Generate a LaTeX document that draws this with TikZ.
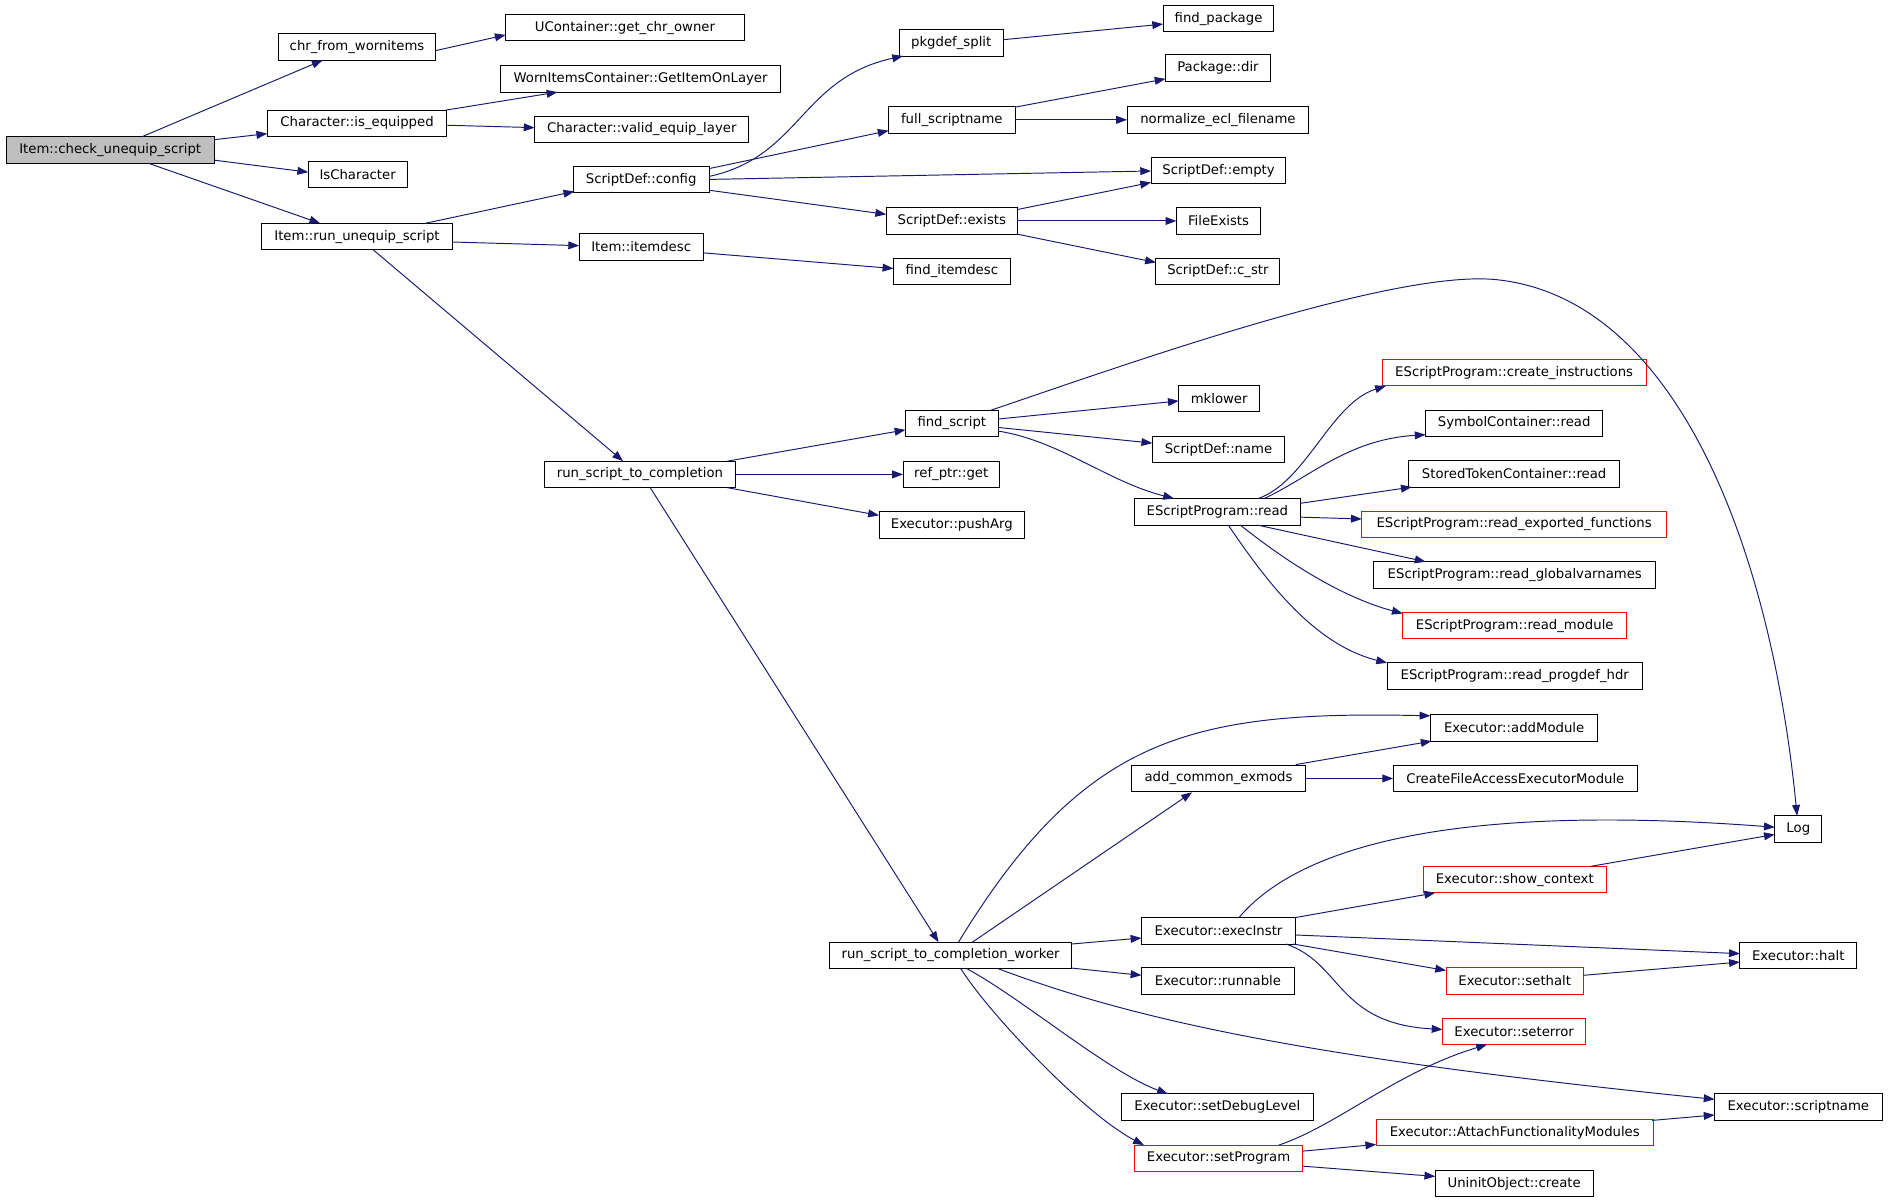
\documentclass[tikz,border=0pt]{standalone}
\usepackage{fontspec}
\setmainfont{DejaVu Sans}
\usetikzlibrary{arrows.meta}
\definecolor{edgeblue}{HTML}{191970}
\begin{document}
\begin{tikzpicture}[x=1pt,y=-1pt,
  box/.style={draw=black, line width=0.8pt, fill=white, inner sep=0pt, minimum height=22pt, font=\fontsize{11}{13}\selectfont, text=black},
  redbox/.style={box, draw=red},
  conn/.style={draw=edgeblue, line width=0.8pt, -{Triangle[length=9pt,width=6.5pt]}}]
\fill[white] (0,0) rectangle (1568,999);
\useasboundingbox (0,0) rectangle (1568,999);
% nodes
\node[box, fill=black!25, minimum width=173pt] (check) at (91.5,124.5) {Item::check\_unequip\_script};
\node[box, minimum width=131pt] (chr) at (296.5,39) {chr\_from\_wornitems};
\node[box, minimum width=198pt] (ucont) at (519,23) {UContainer::get\_chr\_owner};
\node[box, minimum width=232pt] (worn) at (532,65.5) {WornItemsContainer::GetItemOnLayer};
\node[box, minimum width=149pt] (iseq) at (296.5,102.5) {Character::is\_equipped};
\node[box, minimum width=178pt] (valid) at (533,107.5) {Character::valid\_equip\_layer};
\node[box, minimum width=82pt] (ischar) at (297,145) {IsCharacter};
\node[box, minimum width=113pt] (config) at (532.5,149) {ScriptDef::config};
\node[box, minimum width=159pt] (rue) at (296.5,196.5) {Item::run\_unequip\_script};
\node[box, minimum width=103pt] (itemdesc) at (532.5,205) {Item::itemdesc};
\node[box, minimum width=86pt] (pkgdef) at (790,35.5) {pkgdef\_split};
\node[box, minimum width=92pt] (findpkg) at (1012,15.5) {find\_package};
\node[box, minimum width=105pt] (fullsn) at (790.5,99.5) {full\_scriptname};
\node[box, minimum width=87pt] (pkgdir) at (1011.5,56.5) {Package::dir};
\node[box, minimum width=151pt] (normecl) at (1011.5,99.5) {normalize\_ecl\_filename};
\node[box, minimum width=112pt] (sdempty) at (1012,141.5) {ScriptDef::empty};
\node[box, minimum width=109pt] (sdexists) at (790.5,183.5) {ScriptDef::exists};
\node[box, minimum width=70pt] (fileex) at (1012,183.5) {FileExists};
\node[box, minimum width=103pt] (cstr) at (1011.5,225.5) {ScriptDef::c\_str};
\node[box, minimum width=97pt] (finditem) at (790.5,225.5) {find\_itemdesc};
\node[box, minimum width=77pt] (findscript) at (790.5,351.5) {find\_script};
\node[box, minimum width=67pt] (mklower) at (1012.5,331) {mklower};
\node[box, minimum width=110pt] (sdname) at (1012,373.5) {ScriptDef::name};
\node[box, minimum width=159pt] (rstc) at (531.5,394) {run\_script\_to\_completion};
\node[box, minimum width=80pt] (refptr) at (790,394) {ref\_ptr::get};
\node[box, minimum width=121pt] (pusharg) at (790.5,436) {Executor::pushArg};
\node[box, minimum width=138pt] (espread) at (1011,425) {EScriptProgram::read};
\node[redbox, minimum width=219pt] (createinst) at (1257.5,309.5) {EScriptProgram::create\_instructions};
\node[box, minimum width=147pt] (symread) at (1257.5,351.5) {SymbolContainer::read};
\node[box, minimum width=175pt] (stread) at (1257.5,393.5) {StoredTokenContainer::read};
\node[redbox, minimum width=253pt] (readexp) at (1257.5,435.5) {EScriptProgram::read\_exported\_functions};
\node[box, minimum width=234pt] (readglob) at (1258,477.5) {EScriptProgram::read\_globalvarnames};
\node[redbox, minimum width=186pt] (readmod) at (1258,519.5) {EScriptProgram::read\_module};
\node[box, minimum width=212pt] (readprog) at (1258,561.5) {EScriptProgram::read\_progdef\_hdr};
\node[box, minimum width=139pt] (addmod) at (1257.5,604.5) {Executor::addModule};
\node[box, minimum width=144pt] (addcommon) at (1012,646.5) {add\_common\_exmods};
\node[box, minimum width=203pt] (createfile) at (1258.5,646.5) {CreateFileAccessExecutorModule};
\node[box, minimum width=39pt] (log) at (1493.5,688.5) {Log};
\node[redbox, minimum width=152pt] (showctx) at (1258,730.5) {Executor::show\_context};
\node[box, minimum width=128pt] (execinstr) at (1012,773) {Executor::execInstr};
\node[box, minimum width=201pt] (worker) at (789.5,793.5) {run\_script\_to\_completion\_worker};
\node[box, minimum width=97pt] (halt) at (1493.5,793.5) {Executor::halt};
\node[box, minimum width=127pt] (runnable) at (1011.5,814.5) {Executor::runnable};
\node[redbox, minimum width=114pt] (sethalt) at (1258,814.5) {Executor::sethalt};
\node[redbox, minimum width=119pt] (seterror) at (1257.5,856.5) {Executor::seterror};
\node[box, minimum width=160pt] (setdebug) at (1011,919.5) {Executor::setDebugLevel};
\node[box, minimum width=139pt] (scriptname) at (1493.5,919.5) {Executor::scriptname};
\node[redbox, minimum width=230pt] (attach) at (1258,940.5) {Executor::AttachFunctionalityModules};
\node[redbox, minimum width=140pt] (setprog) at (1012,962) {Executor::setProgram};
\node[box, minimum width=131pt] (uninit) at (1257.5,983) {UninitObject::create};
% edges
\draw[conn] ([shift={(26.5,-11)}]check.center) -- ([shift={(-28.5,11)}]chr.center);
\draw[conn] ([shift={(86.5,-8.5)}]check.center) -- ([shift={(-74.5,8.5)}]iseq.center);
\draw[conn] ([shift={(86.5,8.5)}]check.center) -- ([shift={(-41,-2)}]ischar.center);
\draw[conn] ([shift={(31.5,11)}]check.center) -- ([shift={(-30.5,-11)}]rue.center);
\draw[conn] ([shift={(65.5,3)}]chr.center) -- ([shift={(-99,6)}]ucont.center);
\draw[conn] ([shift={(73.5,-11)}]iseq.center) -- ([shift={(-69,11)}]worn.center);
\draw[conn] ([shift={(74.5,1.5)}]iseq.center) -- ([shift={(-89,-1.5)}]valid.center);
\draw[conn] ([shift={(56.5,-11)}]rue.center) -- ([shift={(-55.5,10)}]config.center);
\draw[conn] ([shift={(79.5,4.5)}]rue.center) -- ([shift={(-51.5,-1)}]itemdesc.center);
\draw[conn] ([shift={(13.5,11)}]rue.center) -- ([shift={(-14,-11)}]rstc.center);
\draw[conn] ([shift={(56.5,-2.5)}]config.center) .. controls (665,130) and (665,65) .. ([shift={(-40,11)}]pkgdef.center);
\draw[conn] ([shift={(56.5,-9)}]config.center) -- ([shift={(-52.5,9)}]fullsn.center);
\draw[conn] ([shift={(56.5,0)}]config.center) -- ([shift={(-56,0.5)}]sdempty.center);
\draw[conn] ([shift={(56.5,9)}]config.center) -- ([shift={(-54.5,-5.5)}]sdexists.center);
\draw[conn] ([shift={(51.5,5)}]itemdesc.center) -- ([shift={(-48.5,-2.5)}]finditem.center);
\draw[conn] ([shift={(43,-2.5)}]pkgdef.center) -- ([shift={(-46,4.5)}]findpkg.center);
\draw[conn] ([shift={(52.5,-10.5)}]fullsn.center) -- ([shift={(-43.5,9)}]pkgdir.center);
\draw[conn] ([shift={(52.5,0)}]fullsn.center) -- ([shift={(-75.5,0)}]normecl.center);
\draw[conn] ([shift={(54.5,-9.5)}]sdexists.center) -- ([shift={(-56,10)}]sdempty.center);
\draw[conn] ([shift={(54.5,0)}]sdexists.center) -- ([shift={(-35,0)}]fileex.center);
\draw[conn] ([shift={(54.5,11)}]sdexists.center) -- ([shift={(-51.5,-7.5)}]cstr.center);
\draw[conn] ([shift={(72.5,-11)}]rstc.center) -- ([shift={(-38.5,5.5)}]findscript.center);
\draw[conn] ([shift={(79.5,0)}]rstc.center) -- ([shift={(-40,0)}]refptr.center);
\draw[conn] ([shift={(72.5,11)}]rstc.center) -- ([shift={(-60.5,-8)}]pusharg.center);
\draw[conn] ([shift={(8.5,11)}]rstc.center) -- ([shift={(-10,-11)}]worker.center);
\draw[conn] ([shift={(31.5,-10.5)}]findscript.center) .. controls (920,308) and (1150,225) .. (1240,232) .. controls (1390,245) and (1470,450) .. ([shift={(-1,-11)}]log.center);
\draw[conn] ([shift={(38.5,-3.5)}]findscript.center) -- ([shift={(-33.5,2)}]mklower.center);
\draw[conn] ([shift={(38.5,3.5)}]findscript.center) -- ([shift={(-55,-5.5)}]sdname.center);
\draw[conn] ([shift={(38.5,6.5)}]findscript.center) .. controls (880,366) and (920,400) .. ([shift={(-36,-11)}]espread.center);
\draw[conn] ([shift={(34,-11)}]espread.center) .. controls (1085,400) and (1105,335) .. ([shift={(-106.5,11)}]createinst.center);
\draw[conn] ([shift={(39,-11)}]espread.center) .. controls (1090,395) and (1120,365) .. ([shift={(-73.5,9.5)}]symread.center);
\draw[conn] ([shift={(69,-7)}]espread.center) -- ([shift={(-85,11)}]stread.center);
\draw[conn] ([shift={(69,4.5)}]espread.center) -- ([shift={(-126.5,-4.5)}]readexp.center);
\draw[conn] ([shift={(33,11)}]espread.center) -- ([shift={(-74,-11)}]readglob.center);
\draw[conn] ([shift={(19,11)}]espread.center) .. controls (1060,460) and (1110,495) .. ([shift={(-93,-10)}]readmod.center);
\draw[conn] ([shift={(9,11)}]espread.center) .. controls (1050,480) and (1090,535) .. ([shift={(-106,-11)}]readprog.center);
\draw[conn] ([shift={(6.5,-11)}]worker.center) .. controls (900,612) and (988,590) .. ([shift={(-69.5,-10)}]addmod.center);
\draw[conn] ([shift={(18,-11)}]worker.center) -- ([shift={(-22,11.5)}]addcommon.center);
\draw[conn] ([shift={(100.5,-9.5)}]worker.center) -- ([shift={(-64,6)}]execinstr.center);
\draw[conn] ([shift={(100.5,10.5)}]worker.center) -- ([shift={(-63.5,-4.5)}]runnable.center);
\draw[conn] ([shift={(39.5,11)}]worker.center) .. controls (950,850) and (1100,880) .. ([shift={(-69.5,-6.5)}]scriptname.center);
\draw[conn] ([shift={(13.5,11)}]worker.center) .. controls (850,830) and (920,890) .. ([shift={(-41,-11)}]setdebug.center);
\draw[conn] ([shift={(8.5,11)}]worker.center) .. controls (820,840) and (900,925) .. ([shift={(-62,-11)}]setprog.center);
\draw[conn] ([shift={(64,-11.5)}]addcommon.center) -- ([shift={(-68.5,11)}]addmod.center);
\draw[conn] ([shift={(72,0)}]addcommon.center) -- ([shift={(-101.5,0)}]createfile.center);
\draw[conn] ([shift={(17,-11)}]execinstr.center) .. controls (1090,690) and (1250,670) .. ([shift={(-19.5,-1.5)}]log.center);
\draw[conn] ([shift={(64,-11)}]execinstr.center) -- ([shift={(-66,11)}]showctx.center);
\draw[conn] ([shift={(64,3.5)}]execinstr.center) -- ([shift={(-48.5,-1.5)}]halt.center);
\draw[conn] ([shift={(62,11)}]execinstr.center) -- ([shift={(-57,-8.5)}]sethalt.center);
\draw[conn] ([shift={(56,11)}]execinstr.center) .. controls (1115,800) and (1110,850) .. ([shift={(-59.5,-1.5)}]seterror.center);
\draw[conn] ([shift={(63,-11)}]showctx.center) -- ([shift={(-19.5,4.5)}]log.center);
\draw[conn] ([shift={(57,-4.5)}]sethalt.center) -- ([shift={(-48.5,5.5)}]halt.center);
\draw[conn] ([shift={(50,-11)}]setprog.center) .. controls (1110,935) and (1160,890) .. ([shift={(-22.5,11)}]seterror.center);
\draw[conn] ([shift={(70,-6)}]setprog.center) -- ([shift={(-115,10)}]attach.center);
\draw[conn] ([shift={(70,6.5)}]setprog.center) -- ([shift={(-65.5,-6)}]uninit.center);
\draw[conn] ([shift={(114,-10)}]attach.center) -- ([shift={(-69.5,6.5)}]scriptname.center);
\end{tikzpicture}
\end{document}
